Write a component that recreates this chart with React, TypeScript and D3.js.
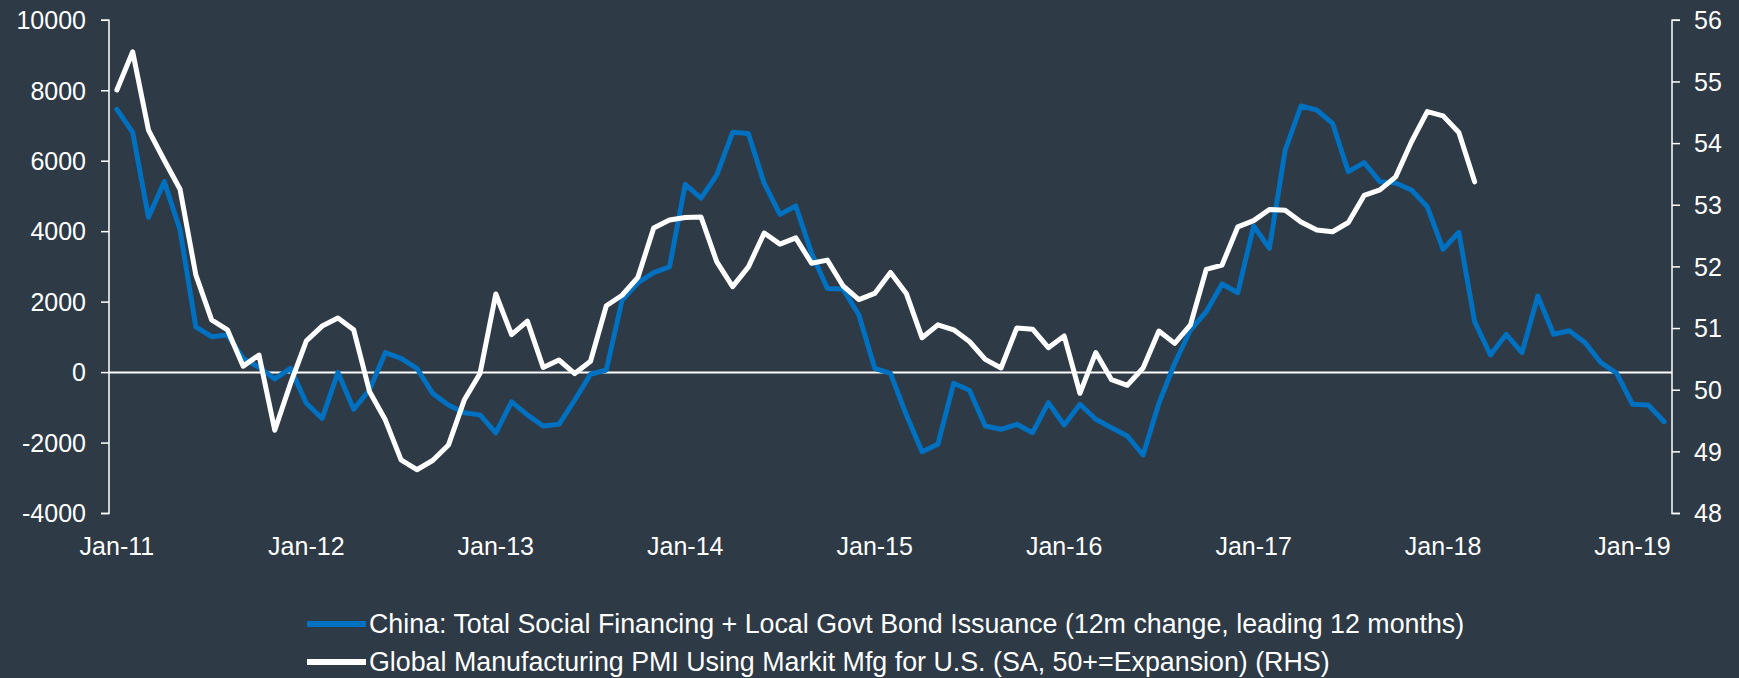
import React from "react";
import * as d3 from "d3";

const months: string[] = (() => {
  const names = ["Jan","Feb","Mar","Apr","May","Jun","Jul","Aug","Sep","Oct","Nov","Dec"];
  const out: string[] = [];
  for (let y = 11; y <= 19; y++) for (let m = 0; m < 12; m++) out.push(`${names[m]}-${y}`);
  return out.slice(0, 99); // Jan-11 .. Mar-19
})();

const tickLabels = ["Jan-11","Jan-12","Jan-13","Jan-14","Jan-15","Jan-16","Jan-17","Jan-18","Jan-19"];
const leftTicks = [-4000, -2000, 0, 2000, 4000, 6000, 8000, 10000];
const rightTicks = [48, 49, 50, 51, 52, 53, 54, 55, 56];

// China TSF + local govt bond issuance (12m change, leading 12 months), LHS
const tsf = [
  7470, 6820, 4410, 5420, 4050, 1300, 1020, 1070, 400, 150,
  -180, 120, -870, -1300, 0, -1040, -490, 565, 406, 122,
  -590, -920, -1140, -1200, -1710, -830, -1200, -1516, -1468, -778,
  -48, 74, 2060, 2550, 2840, 3000, 5345, 4950, 5610, 6820,
  6790, 5370, 4490, 4730, 3390, 2390, 2370, 1635, 122, -20,
  -1200, -2245, -2035, -304, -500, -1516, -1610, -1468, -1706, -854,
  -1487, -900, -1326, -1564, -1800, -2339, -872, 264, 1209, 1729,
  2515, 2268, 4161, 3528, 6318, 7567, 7454, 7076, 5703, 5958,
  5419, 5380, 5183, 4709, 3500, 3982, 1445, 500, 1087, 565,
  2174, 1087, 1189, 849, 281, -20, -900, -920, -1394,
];

// Global Manufacturing PMI (RHS)
const pmi = [
  54.87, 55.49, 54.22, 53.73, 53.26, 51.87, 51.14, 50.98, 50.39, 50.57,
  49.35, 50.11, 50.80, 51.04, 51.17, 50.98, 49.98, 49.52, 48.87, 48.71,
  48.86, 49.11, 49.84, 50.27, 51.56, 50.90, 51.12, 50.37, 50.49, 50.27,
  50.47, 51.37, 51.54, 51.83, 52.63, 52.76, 52.80, 52.81, 52.08, 51.68,
  52.00, 52.55, 52.37, 52.47, 52.06, 52.11, 51.69, 51.47, 51.57, 51.91,
  51.57, 50.85, 51.06, 50.98, 50.79, 50.50, 50.36, 51.01, 50.99, 50.69,
  50.88, 49.95, 50.61, 50.17, 50.08, 50.36, 50.96, 50.76, 51.06, 51.96,
  52.03, 52.65, 52.75, 52.93, 52.92, 52.73, 52.60, 52.57, 52.72, 53.16,
  53.25, 53.46, 54.03, 54.52, 54.45, 54.18, 53.38,
];

const legendLabels = [
  "China: Total Social Financing + Local Govt Bond Issuance (12m change, leading 12 months)",
  "Global Manufacturing PMI Using Markit Mfg for U.S. (SA, 50+=Expansion) (RHS)",
];

const W = 1739;
const H = 678;
const BG = "#2e3a46";
const BLUE = "#0070c0";
const FONT = "'Liberation Sans', Arial, sans-serif";

export default function App() {
  const left = 109, right = 1672, top = 20.3, bottom = 513.5;
  const x = d3.scalePoint<string>().domain(months).range([left, right]).padding(0.5);
  const yL = d3.scaleLinear().domain([-4000, 10000]).range([bottom, top]);
  const yR = d3.scaleLinear().domain([48, 56]).range([bottom, top]);

  const lineL = d3.line<number>().x((_, i) => x(months[i])!).y((d) => yL(d));
  const lineR = d3.line<number>().x((_, i) => x(months[i])!).y((d) => yR(d));

  const tickLen = 8;

  return (
    <svg width={W} height={H} style={{ position: "absolute", left: 0, top: 0, display: "block" }} fontFamily={FONT}>
      <rect x={0} y={0} width={W} height={H} fill={BG} />
      {/* left axis */}
      <path d={`M${left - tickLen},${yL(10000)}H${left}V${yL(-4000)}H${left - tickLen}`} fill="none" stroke="#fff" strokeWidth={1.5} />
      {leftTicks.map((t) => (
        <g key={t}>
          <line x1={left - tickLen} x2={left} y1={yL(t)} y2={yL(t)} stroke="#fff" strokeWidth={1.5} />
          <text x={left - 23} y={yL(t)} dy="0.35em" textAnchor="end" fill="#fff" fontSize={25}>{t}</text>
        </g>
      ))}
      {/* right axis */}
      <path d={`M${right + tickLen},${yR(56)}H${right}V${yR(48)}H${right + tickLen}`} fill="none" stroke="#fff" strokeWidth={1.5} />
      {rightTicks.map((t) => (
        <g key={t}>
          <line x1={right} x2={right + tickLen} y1={yR(t)} y2={yR(t)} stroke="#fff" strokeWidth={1.5} />
          <text x={right + 22} y={yR(t)} dy="0.35em" textAnchor="start" fill="#fff" fontSize={25}>{t}</text>
        </g>
      ))}
      {/* zero line */}
      <line x1={left} x2={right} y1={yL(0)} y2={yL(0)} stroke="#fff" strokeWidth={2} />
      {/* x labels */}
      {tickLabels.map((t) => (
        <text key={t} x={x(t)!} y={555} textAnchor="middle" fill="#fff" fontSize={25}>{t}</text>
      ))}
      {/* series */}
      <path d={lineL(tsf)!} fill="none" stroke={BLUE} strokeWidth={5} strokeLinejoin="round" strokeLinecap="round" />
      <path d={lineR(pmi)!} fill="none" stroke="#fff" strokeWidth={5} strokeLinejoin="round" strokeLinecap="round" />
      {/* legend */}
      <g>
        <line x1={307} x2={366} y1={624} y2={624} stroke={BLUE} strokeWidth={6} />
        <text x={369} y={624} dy="0.35em" fill="#fff" fontSize={26.8}>{legendLabels[0]}</text>
        <line x1={307} x2={366} y1={662} y2={662} stroke="#fff" strokeWidth={6} />
        <text x={369} y={662} dy="0.35em" fill="#fff" fontSize={26.8}>{legendLabels[1]}</text>
      </g>
    </svg>
  );
}
